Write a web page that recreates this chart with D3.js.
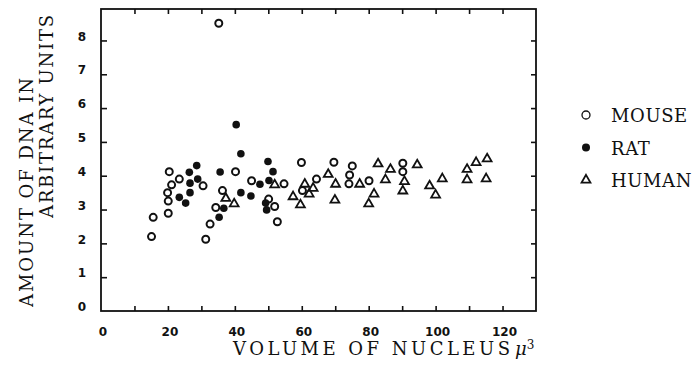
<!DOCTYPE html>
<html>
<head>
<meta charset="utf-8">
<script src="https://cdn.jsdelivr.net/npm/d3@7"></script>
<style>
  body { margin: 0; background: #fff; }
  .tick-label { font-family: 'DejaVu Sans', sans-serif; font-weight: bold; font-size: 12px; fill: #111; }
  .title { font-family: 'DejaVu Serif', serif; font-size: 18px; fill: #111; }
</style>
</head>
<body>
<svg width="695" height="370"></svg>
<script>
var svg = d3.select('svg');

// data: [volume (µ3), DNA amount]
var mouse = [
  [15.1, 2.2], [15.6, 2.77], [20.1, 2.89], [20.1, 3.25], [19.9, 3.5], [21.1, 3.73],
  [20.4, 4.12], [23.4, 3.9], [30.5, 3.7], [31.3, 2.12], [32.6, 2.57], [34.3, 3.06],
  [35.2, 8.51], [36.3, 3.56], [40.2, 4.12], [45, 3.85], [50.1, 3.31], [51.9, 3.09],
  [52.7, 2.64], [54.7, 3.76], [59.9, 4.39], [60.2, 3.56], [64.4, 3.9], [69.6, 4.4],
  [75.1, 4.29], [74.3, 4.02], [74.1, 3.76], [80.1, 3.85], [90.2, 4.37], [90.2, 4.12]
];
var rat = [
  [26.4, 4.1], [28.6, 4.3], [28.9, 3.9], [26.6, 3.78], [26.6, 3.5], [23.4, 3.36],
  [25.3, 3.19], [35.3, 2.77], [36.7, 3.04], [35.6, 4.11], [40.4, 5.51], [41.8, 4.65],
  [41.8, 3.5], [44.8, 3.4], [47.5, 3.75], [49.9, 4.42], [51.4, 4.12], [50.2, 3.86],
  [49.2, 3.19], [49.5, 2.99]
];
var human = [
  [37.3, 3.33], [39.8, 3.17], [51.9, 3.73], [57.4, 3.38], [59.6, 3.14], [60.9, 3.75],
  [62.2, 3.46], [63.4, 3.63], [67.9, 4.04], [70.1, 3.75], [69.9, 3.28], [77.3, 3.75],
  [82.8, 4.35], [85, 3.88], [86.5, 4.19], [81.6, 3.46], [80, 3.17], [90.7, 3.83],
  [90.2, 3.55], [94.5, 4.32], [98.2, 3.7], [100, 3.43], [102, 3.91], [109.4, 4.19],
  [109.4, 3.88], [112.1, 4.39], [115.4, 4.5], [115.1, 3.91]
];
var xTicks = [10, 20, 30, 40, 50, 60, 70, 80, 90, 100, 110, 120];
var xLabels = [0, 20, 40, 60, 80, 100, 120];
var yTicks = [1, 2, 3, 4, 5, 6, 7, 8];
var yLabels = [0, 1, 2, 3, 4, 5, 6, 7, 8];
var legendNames = ['MOUSE', 'RAT', 'HUMAN'];

// plot frame in pixels
var frame = {l: 101, r: 536, t: 9, b: 311};

var xScale = d3.scaleLinear().domain([0, 130]).range([frame.l, frame.r]);
var yScale = d3.scaleLinear().domain([0, 8.93]).range([frame.b, frame.t]);

svg.append('rect')
    .attr('x', frame.l).attr('y', frame.t)
    .attr('width', frame.r - frame.l).attr('height', frame.b - frame.t)
    .attr('fill', 'none').attr('stroke', '#111').attr('stroke-width', 1.8);

// inward ticks on all four sides
function styleAxis(g) {
  g.select('.domain').remove();
  g.selectAll('.tick line').attr('stroke', '#111').attr('stroke-width', 1.6);
  g.selectAll('.tick text').remove();
}
svg.append('g')
    .attr('transform', 'translate(0,' + frame.b + ')')
    .call(d3.axisTop(xScale).tickValues(xTicks).tickSize(5))
    .call(styleAxis);
svg.append('g')
    .attr('transform', 'translate(0,' + frame.t + ')')
    .call(d3.axisBottom(xScale).tickValues(xTicks).tickSize(5))
    .call(styleAxis);
svg.append('g')
    .attr('transform', 'translate(' + frame.l + ',0)')
    .call(d3.axisRight(yScale).tickValues(yTicks).tickSize(6))
    .call(styleAxis);
svg.append('g')
    .attr('transform', 'translate(' + frame.r + ',0)')
    .call(d3.axisLeft(yScale).tickValues(yTicks).tickSize(5))
    .call(styleAxis);

// tick labels
svg.selectAll('.xlab')
    .data(xLabels)
    .enter().append('text')
    .attr('class', 'tick-label')
    .attr('x', function(d) { return xScale(d) + 2; })
    .attr('y', 336)
    .attr('text-anchor', 'middle')
    .text(function(d) { return d; });

svg.selectAll('.ylab')
    .data(yLabels)
    .enter().append('text')
    .attr('class', 'tick-label')
    .attr('x', 86)
    .attr('y', function(d) { return yScale(d) - 4; })
    .attr('dy', '0.35em')
    .attr('text-anchor', 'end')
    .text(function(d) { return d; });

// axis titles
svg.append('text')
    .attr('class', 'title')
    .attr('x', 233).attr('y', 355)
    .attr('textLength', 277).attr('lengthAdjust', 'spacing')
    .text('VOLUME OF NUCLEUS');
svg.append('text')
    .attr('class', 'title')
    .attr('x', 515).attr('y', 355)
    .style('font-style', 'italic')
    .text('\u03bc')
    .append('tspan')
    .style('font-style', 'normal')
    .attr('dy', -6).attr('font-size', 12)
    .text('3');

svg.append('text')
    .attr('class', 'title')
    .attr('transform', 'translate(33,307) rotate(-90)')
    .attr('textLength', 229).attr('lengthAdjust', 'spacing')
    .text('AMOUNT OF DNA IN');
svg.append('text')
    .attr('class', 'title')
    .attr('transform', 'translate(53,218) rotate(-90)')
    .attr('textLength', 203).attr('lengthAdjust', 'spacing')
    .text('ARBITRARY UNITS');

// markers
var tri = d3.symbol().type(d3.symbolTriangle).size(34);

svg.append('g').selectAll('circle')
    .data(mouse)
    .enter().append('circle')
    .attr('cx', function(d) { return xScale(d[0]); })
    .attr('cy', function(d) { return yScale(d[1]); })
    .attr('r', 3.5)
    .attr('fill', 'none').attr('stroke', '#111').attr('stroke-width', 2);

svg.append('g').selectAll('circle')
    .data(rat)
    .enter().append('circle')
    .attr('cx', function(d) { return xScale(d[0]); })
    .attr('cy', function(d) { return yScale(d[1]); })
    .attr('r', 3.8)
    .attr('fill', '#111');

svg.append('g').selectAll('path')
    .data(human)
    .enter().append('path')
    .attr('d', tri)
    .attr('transform', function(d) {
      return 'translate(' + xScale(d[0]) + ',' + yScale(d[1]) + ')';
    })
    .attr('fill', 'none').attr('stroke', '#111').attr('stroke-width', 1.8);

// legend
var legend = svg.append('g')
    .selectAll('.legend')
    .data(legendNames)
    .enter().append('g')
    .attr('transform', function(d, i) { return 'translate(586,' + (115 + i * 32.5) + ')'; });

legend.each(function(d, i) {
  var g = d3.select(this);
  if (i === 0) {
    g.append('circle').attr('r', 4).attr('fill', 'none').attr('stroke', '#111').attr('stroke-width', 1.3);
  } else if (i === 1) {
    g.append('circle').attr('r', 4).attr('fill', '#111');
  } else {
    g.append('path').attr('d', tri).attr('fill', 'none').attr('stroke', '#111').attr('stroke-width', 1.8);
  }
});

legend.append('text')
    .attr('class', 'title')
    .attr('x', 25).attr('y', 7)
    .style('letter-spacing', '0.6px')
    .text(function(d) { return d; });
</script>
</body>
</html>
